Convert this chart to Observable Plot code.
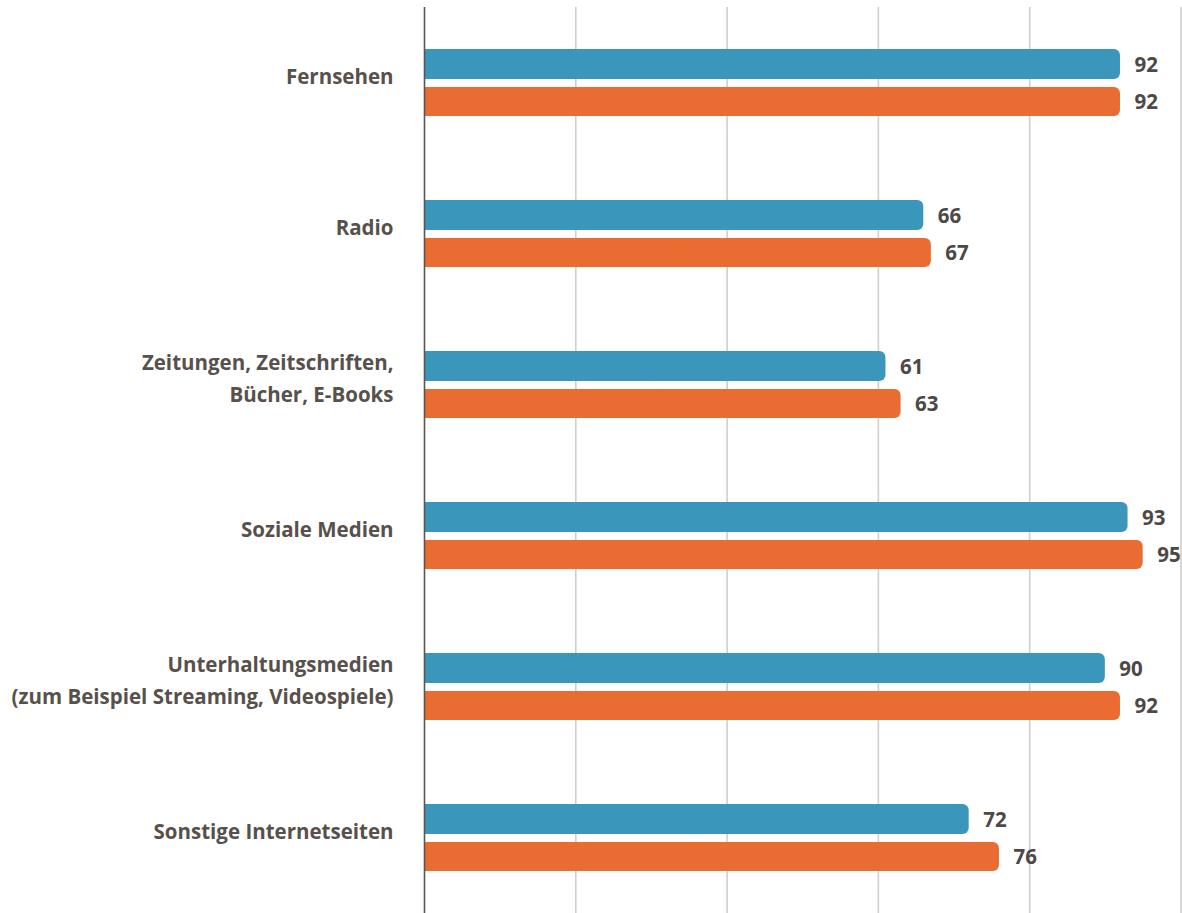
<!DOCTYPE html>
<html>
<head>
<meta charset="utf-8">
<script src="https://cdn.jsdelivr.net/npm/d3@7"></script>
<script src="https://cdn.jsdelivr.net/npm/@observablehq/plot@0.6"></script>
<style>
  html, body { margin: 0; padding: 0; background: #fff; }
  #chart svg { display: block; overflow: visible; }
</style>
</head>
<body>
<div id="chart"></div>
<script>
const categories = [
  "Fernsehen",
  "Radio",
  "Zeitungen, Zeitschriften,\nBücher, E-Books",
  "Soziale Medien",
  "Unterhaltungsmedien\n(zum Beispiel Streaming, Videospiele)",
  "Sonstige Internetseiten"
];
const series = ["Serie 1", "Serie 2"];
const valuesBlue = [92, 66, 61, 93, 90, 72];
const valuesOrange = [92, 67, 63, 95, 92, 76];
const xTicks = [0, 20, 40, 60, 80, 100];
const colors = ["#3a96bb", "#e96c32"];

const blue = categories.map((c, i) => ({cat: c, s: series[0], v: valuesBlue[i]}));
const orange = categories.map((c, i) => ({cat: c, s: series[1], v: valuesOrange[i]}));

const font = "'Open Sans', Lato, sans-serif";
const barOpts = (d, top, bottom, color) => [
  Plot.barX(d, {x1: 0, x2: "v", y: "cat", fill: color, rx: 6, insetTop: top, insetBottom: bottom}),
  Plot.barX(d, {x1: 0, x2: r => r.v / 2, y: "cat", fill: color, insetTop: top, insetBottom: bottom})
];

const chart = Plot.plot({
  width: 1182,
  height: 913,
  marginLeft: 424,
  marginRight: 1.5,
  marginTop: 7,
  marginBottom: 0,
  style: {fontFamily: font, background: "#fff"},
  x: {domain: [0, 100], axis: null},
  y: {domain: categories, axis: null, padding: 0, round: true},
  marks: [
    Plot.ruleX(xTicks.filter(t => t > 0), {stroke: "#cfcfcf", strokeWidth: 1.6}),
    ...barOpts(blue, 42, 79, colors[0]),
    ...barOpts(orange, 80, 42, colors[1]),
    Plot.ruleX([0], {stroke: "#5a5552", strokeWidth: 1.6}),
    Plot.text(blue, {x: "v", y: "cat", text: d => String(d.v), dx: 14, dy: -18, textAnchor: "start",
      fill: "#4d4845", fontSize: 20.5, fontWeight: "bold"}),
    Plot.text(orange, {x: "v", y: "cat", text: d => String(d.v), dx: 14, dy: 19, textAnchor: "start",
      fill: "#4d4845", fontSize: 20.5, fontWeight: "bold"}),
    Plot.text(categories, {y: d => d, frameAnchor: "left", dx: -31, dy: -9, textAnchor: "end",
      text: d => d, fill: "#57504b", fontSize: 20.5, fontWeight: "bold", lineHeight: 1.56})
  ]
});
document.getElementById("chart").appendChild(chart);
</script>
</body>
</html>
